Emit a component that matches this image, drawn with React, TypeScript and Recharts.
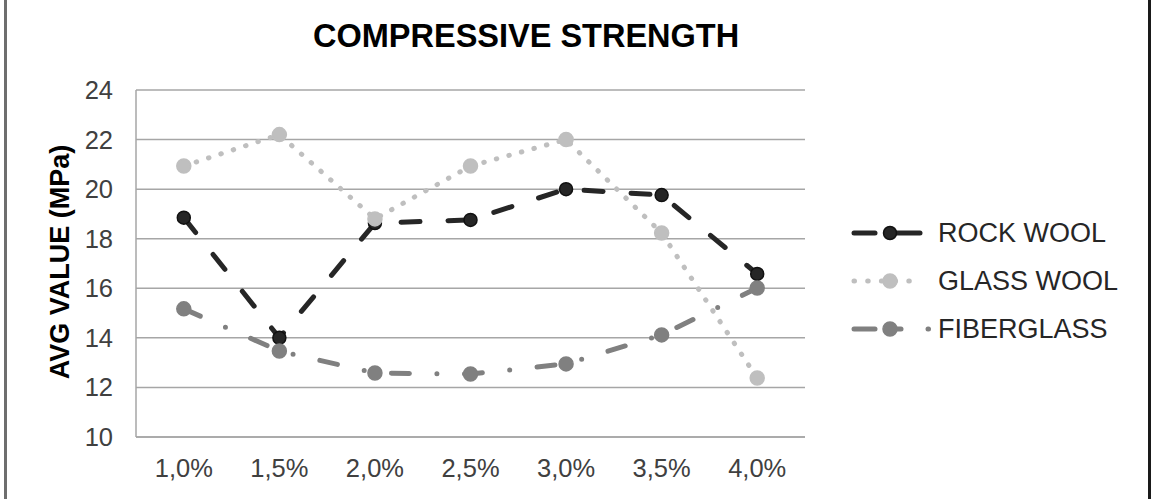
import { LineChart, Line, XAxis, YAxis, CartesianGrid } from "recharts";

// dosage of fibre (% of binder)
const categories = ["1,0%", "1,5%", "2,0%", "2,5%", "3,0%", "3,5%", "4,0%"];

// average compressive strength, MPa
const rockWool = [18.85, 14.0, 18.63, 18.76, 20.0, 19.76, 16.58];
const glassWool = [20.93, 22.2, 18.8, 20.93, 22.0, 18.23, 12.38];
const fiberglass = [15.17, 13.47, 12.58, 12.54, 12.95, 14.12, 16.01];

const yTicks = [10, 12, 14, 16, 18, 20, 22, 24];

const data = categories.map((pct, i) => ({
  pct,
  rock: rockWool[i],
  glass: glassWool[i],
  fiber: fiberglass[i],
}));

const FONT = "'Liberation Sans', Arial, sans-serif";

// series look, shared by lines and legend
const seriesStyle = [
  { key: "rock", name: "ROCK WOOL", color: "#262626", dash: "19 28", r: 6.5 },
  { key: "glass", name: "GLASS WOOL", color: "#bfbfbf", dash: "0.5 12.5", r: 7 },
  { key: "fiber", name: "FIBERGLASS", color: "#808080", dash: "18 27.5 0 27.5", r: 7 },
];

// little line sample drawn in front of each legend name
const Sample = ({ s }: { s: (typeof seriesStyle)[number] }) => {
  const common = { stroke: s.color, strokeWidth: 5, strokeLinecap: "round" as const };
  return (
    <svg width={86} height={20} style={{ overflow: "visible" }}>
      {s.key === "rock" && (
        <>
          <line x1={6} y1={10} x2={27} y2={10} {...common} />
          <line x1={46} y1={10} x2={72} y2={10} {...common} />
        </>
      )}
      {s.key === "glass" && (
        <line x1={6} y1={10} x2={74} y2={10} {...common} strokeDasharray="0.5 13.2" />
      )}
      {s.key === "fiber" && (
        <>
          <line x1={6} y1={10} x2={27} y2={10} {...common} />
          <line x1={42} y1={10} x2={53} y2={10} {...common} />
          <line x1={80} y1={10} x2={80.5} y2={10} {...common} />
        </>
      )}
      <circle cx={42} cy={10} r={s.r} fill={s.color} stroke={s.key === "rock" ? "#111" : s.color} strokeWidth={1.5} />
    </svg>
  );
};

const LegendBox = () => (
  <div style={{ fontFamily: FONT }}>
    {seriesStyle.map((s) => (
      <div key={s.key} style={{ display: "flex", alignItems: "center", height: 48 }}>
        <Sample s={s} />
        <span style={{ fontSize: 27, color: "#262626", marginLeft: 4, whiteSpace: "nowrap" }}>{s.name}</span>
      </div>
    ))}
  </div>
);

export default function App() {
  return (
    <div style={{ position: "absolute", left: 0, top: 0, width: 1155, height: 499, background: "#fff" }}>
      <div style={{ position: "absolute", left: 4, top: 0, width: 3, height: 499, background: "#6e6e6e" }} />
      <div style={{ position: "absolute", left: 1148, top: 0, width: 3, height: 499, background: "#1a1a1a" }} />
      <div
        style={{
          position: "absolute",
          left: 313,
          width: 400,
          top: 18,
          textAlign: "center",
          fontFamily: FONT,
          fontWeight: "bold",
          fontSize: 32.5,
          color: "#000",
          whiteSpace: "nowrap",
        }}
      >
        COMPRESSIVE STRENGTH
      </div>
      <div
        style={{
          position: "absolute",
          left: 60,
          top: 262,
          transform: "translate(-50%, -50%) rotate(-90deg)",
          fontFamily: FONT,
          fontWeight: "bold",
          fontSize: 27,
          color: "#000",
          whiteSpace: "nowrap",
        }}
      >
        AVG VALUE (MPa)
      </div>
      <LineChart
        width={1155}
        height={499}
        data={data}
        margin={{ top: 90, right: 350, bottom: 0, left: 0 }}
        style={{ position: "absolute", left: 0, top: 0 }}
      >
        <CartesianGrid vertical={false} stroke="#a6a6a6" strokeWidth={1.5} />
        <XAxis
          dataKey="pct"
          height={62}
          padding={{ left: 47.8, right: 47.8 }}
          axisLine={{ stroke: "#a6a6a6", strokeWidth: 1.5 }}
          tickLine={false}
          tickSize={0}
          tickMargin={22}
          tick={{ fontSize: 25.5, fill: "#404040", fontFamily: FONT }}
          interval={0}
        />
        <YAxis
          width={136}
          domain={[10, 24]}
          ticks={yTicks}
          axisLine={{ stroke: "#a6a6a6", strokeWidth: 1.5 }}
          tickLine={false}
          tickSize={0}
          tickMargin={23}
          tick={{ fontSize: 25.5, fill: "#404040", fontFamily: FONT }}
          interval={0}
        />
        {seriesStyle.map((s) => (
          <Line
            key={s.key}
            type="linear"
            dataKey={s.key}
            name={s.name}
            stroke={s.color}
            strokeWidth={5}
            strokeLinecap="round"
            strokeDasharray={s.dash}
            dot={{ r: s.r, fill: s.color, stroke: s.key === "rock" ? "#111" : s.color, strokeWidth: 1.5, strokeDasharray: "" }}
            activeDot={false}
            isAnimationActive={false}
          />
        ))}
      </LineChart>
      <div style={{ position: "absolute", left: 848, top: 209, width: 300 }}>
        <LegendBox />
      </div>
    </div>
  );
}
